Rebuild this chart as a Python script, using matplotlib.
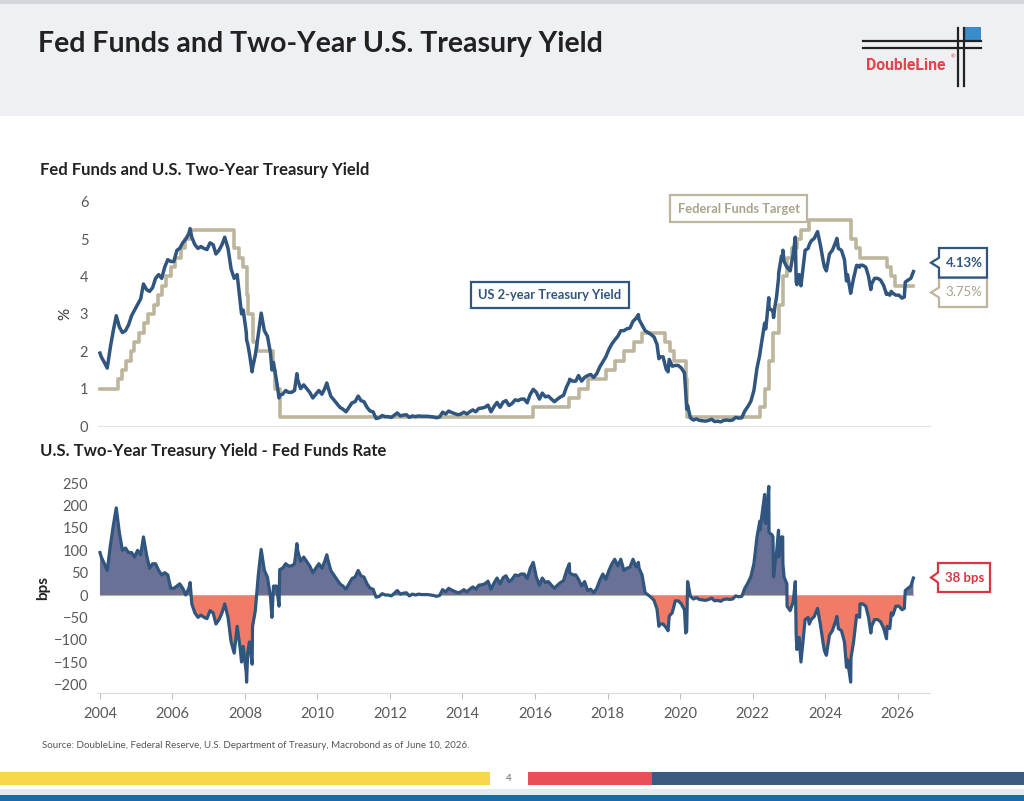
import numpy as np
import pandas as pd
import matplotlib
matplotlib.use("Agg")
import matplotlib.pyplot as plt
import matplotlib.dates as mdates
from matplotlib.patches import Rectangle, Polygon

plt.rcParams['font.family'] = ['Lato', 'DejaVu Sans']

# ---- data ----
# Fed funds target (upper bound), change dates and levels in %
ff_dates = ["2004-01-01", "2004-06-30", "2004-08-10", "2004-09-21", "2004-11-10", "2004-12-14",
            "2005-02-02", "2005-03-22", "2005-05-03", "2005-06-30", "2005-08-09", "2005-09-20",
            "2005-11-01", "2005-12-13", "2006-01-31", "2006-03-28", "2006-05-10", "2006-06-29",
            "2007-09-18", "2007-10-31", "2007-12-11", "2008-01-22", "2008-01-30", "2008-03-18",
            "2008-04-30", "2008-10-08", "2008-10-29", "2008-12-16", "2015-12-16", "2016-12-14",
            "2017-03-15", "2017-06-14", "2017-12-13", "2018-03-21", "2018-06-13", "2018-09-26",
            "2018-12-19", "2019-07-31", "2019-09-18", "2019-10-30", "2020-03-03", "2020-03-15",
            "2022-03-16", "2022-05-04", "2022-06-15", "2022-07-27", "2022-09-21", "2022-11-02",
            "2022-12-14", "2023-02-01", "2023-03-22", "2023-05-03", "2023-07-26", "2024-09-18",
            "2024-11-07", "2024-12-18", "2025-09-17", "2025-10-29", "2025-12-10", "2026-06-10"]
ff_levels = [1.00, 1.25, 1.50, 1.75, 2.00, 2.25,
             2.50, 2.75, 3.00, 3.25, 3.50, 3.75,
             4.00, 4.25, 4.50, 4.75, 5.00, 5.25,
             4.75, 4.50, 4.25, 3.50, 3.00, 2.25,
             2.00, 1.50, 1.00, 0.25, 0.50, 0.75,
             1.00, 1.25, 1.50, 1.75, 2.00, 2.25,
             2.50, 2.25, 2.00, 1.75, 1.25, 0.25,
             0.50, 1.00, 1.75, 2.50, 3.25, 4.00,
             4.50, 4.75, 5.00, 5.25, 5.50, 5.00,
             4.75, 4.50, 4.25, 4.00, 3.75, 3.75]

# US 2-year Treasury yield, %
y2_dates = [
    "2004-01-02", "2004-01-15", "2004-02-15", "2004-03-15", "2004-04-15", "2004-05-15", "2004-06-14",
    "2004-07-15", "2004-08-15", "2004-09-15", "2004-10-15", "2004-11-15", "2004-12-15",
    "2005-01-15", "2005-02-15", "2005-03-15", "2005-04-15", "2005-05-15", "2005-06-15",
    "2005-07-15", "2005-08-15", "2005-09-15", "2005-10-15", "2005-11-15", "2005-12-15",
    "2006-01-15", "2006-02-15", "2006-03-15", "2006-04-15", "2006-05-15", "2006-06-15", "2006-06-28",
    "2006-07-15", "2006-08-15", "2006-09-15", "2006-10-15", "2006-11-15", "2006-12-15",
    "2007-01-15", "2007-02-15", "2007-03-15", "2007-04-15", "2007-05-15", "2007-06-12",
    "2007-07-15", "2007-08-15", "2007-09-15", "2007-10-15", "2007-11-15", "2007-11-28", "2007-12-15",
    "2008-01-15", "2008-01-18", "2008-01-29", "2008-02-15", "2008-03-14", "2008-03-18", "2008-04-15",
    "2008-05-15", "2008-06-13", "2008-07-15", "2008-08-15", "2008-09-15", "2008-09-29", "2008-10-15",
    "2008-11-15", "2008-12-10", "2008-12-17",
    "2009-01-15", "2009-02-15", "2009-03-15", "2009-04-15", "2009-05-15", "2009-06-08", "2009-06-15",
    "2009-07-15", "2009-08-15", "2009-09-15", "2009-10-15", "2009-11-15", "2009-12-15",
    "2010-01-15", "2010-02-15", "2010-03-15", "2010-04-05", "2010-04-15", "2010-05-15", "2010-06-15",
    "2010-07-15", "2010-08-15", "2010-09-15", "2010-10-15", "2010-11-15", "2010-12-15",
    "2011-01-15", "2011-02-15", "2011-03-15", "2011-04-15", "2011-05-15", "2011-06-15",
    "2011-07-15", "2011-08-15", "2011-09-15", "2011-10-15", "2011-11-15", "2011-12-15",
    "2012-01-15", "2012-02-15", "2012-03-15", "2012-04-15", "2012-05-15", "2012-06-15",
    "2012-07-15", "2012-08-15", "2012-09-15", "2012-10-15", "2012-11-15", "2012-12-15",
    "2013-01-15", "2013-02-15", "2013-03-15", "2013-04-15", "2013-05-15", "2013-06-15",
    "2013-07-15", "2013-08-15", "2013-09-15", "2013-10-15", "2013-11-15", "2013-12-15",
    "2014-01-15", "2014-02-15", "2014-03-15", "2014-04-15", "2014-05-15", "2014-06-15",
    "2014-07-15", "2014-08-15", "2014-09-15", "2014-10-15", "2014-11-15", "2014-12-15",
    "2015-01-15", "2015-02-15", "2015-03-15", "2015-04-15", "2015-05-15", "2015-06-15",
    "2015-07-15", "2015-08-15", "2015-09-15", "2015-10-15", "2015-11-15", "2015-12-15",
    "2016-01-15", "2016-02-15", "2016-03-15", "2016-04-15", "2016-05-15", "2016-06-15",
    "2016-07-15", "2016-08-15", "2016-09-15", "2016-10-15", "2016-11-15", "2016-12-13", "2016-12-15",
    "2017-01-15", "2017-02-15", "2017-03-15", "2017-04-15", "2017-05-15", "2017-06-15",
    "2017-07-15", "2017-08-15", "2017-09-15", "2017-10-15", "2017-11-15", "2017-12-15",
    "2018-01-15", "2018-02-15", "2018-03-15", "2018-04-15", "2018-05-15", "2018-06-15",
    "2018-07-15", "2018-08-15", "2018-09-15", "2018-10-15", "2018-11-08", "2018-11-15", "2018-12-15",
    "2019-01-15", "2019-02-15", "2019-03-15", "2019-04-15", "2019-05-15", "2019-06-03", "2019-06-15",
    "2019-07-15", "2019-08-15", "2019-09-03", "2019-09-15", "2019-10-15", "2019-11-15", "2019-12-15",
    "2020-01-15", "2020-02-15", "2020-02-28", "2020-03-09", "2020-03-18", "2020-04-15", "2020-05-15",
    "2020-06-15", "2020-07-15", "2020-08-15", "2020-09-15", "2020-10-15", "2020-11-15", "2020-12-15",
    "2021-01-15", "2021-02-15", "2021-03-15", "2021-04-15", "2021-05-15", "2021-06-15",
    "2021-07-15", "2021-08-15", "2021-09-15", "2021-10-15", "2021-11-15", "2021-12-15",
    "2022-01-15", "2022-02-15", "2022-03-15", "2022-03-17", "2022-04-15", "2022-05-03", "2022-05-05",
    "2022-05-15", "2022-06-14", "2022-06-16", "2022-07-15", "2022-07-26", "2022-08-01", "2022-08-15",
    "2022-08-31", "2022-09-20", "2022-09-22", "2022-10-20", "2022-11-01", "2022-11-03", "2022-11-15",
    "2022-12-13", "2022-12-15",
    "2023-01-15", "2023-02-15", "2023-03-08", "2023-03-17", "2023-03-24", "2023-04-15", "2023-05-04",
    "2023-05-15", "2023-06-15", "2023-07-15", "2023-07-27", "2023-08-15", "2023-09-15", "2023-10-18",
    "2023-11-15", "2023-12-15", "2023-12-27",
    "2024-01-15", "2024-02-15", "2024-03-15", "2024-04-15", "2024-04-30", "2024-05-15", "2024-06-15",
    "2024-07-15", "2024-08-05", "2024-08-15", "2024-09-16", "2024-09-19", "2024-10-15", "2024-11-15",
    "2024-12-15", "2024-12-19",
    "2025-01-15", "2025-02-15", "2025-03-15", "2025-04-07", "2025-04-15", "2025-05-15", "2025-06-15",
    "2025-07-15", "2025-08-15", "2025-09-12", "2025-09-18", "2025-10-15", "2025-10-30", "2025-11-15",
    "2025-12-15",
    "2026-01-15", "2026-02-15", "2026-03-10", "2026-03-20", "2026-04-15", "2026-05-15", "2026-06-10",
]
y2_vals = [
    1.95, 1.85, 1.70, 1.55, 2.10, 2.55, 2.95,
    2.65, 2.50, 2.55, 2.70, 2.95, 3.10,
    3.25, 3.40, 3.80, 3.65, 3.60, 3.70,
    3.95, 4.05, 3.95, 4.25, 4.45, 4.40,
    4.40, 4.70, 4.75, 4.90, 5.00, 5.15, 5.28,
    5.05, 4.85, 4.75, 4.80, 4.75, 4.72,
    4.90, 4.85, 4.60, 4.70, 4.85, 5.05,
    4.75, 4.20, 3.95, 4.05, 3.30, 3.00, 3.10,
    2.50, 2.30, 2.20, 1.95, 1.45, 1.55, 1.90,
    2.45, 3.02, 2.55, 2.40, 1.95, 1.50, 1.70,
    1.20, 0.75, 0.82,
    0.85, 0.95, 0.90, 0.90, 0.95, 1.40, 1.25,
    1.00, 1.10, 1.00, 0.90, 0.75, 0.85,
    0.95, 0.85, 1.00, 1.15, 1.05, 0.80, 0.70,
    0.60, 0.50, 0.45, 0.38, 0.50, 0.62,
    0.65, 0.80, 0.68, 0.65, 0.50, 0.40,
    0.38, 0.20, 0.22, 0.28, 0.25, 0.25,
    0.23, 0.29, 0.35, 0.27, 0.29, 0.30,
    0.23, 0.27, 0.25, 0.27, 0.26, 0.26,
    0.26, 0.25, 0.24, 0.22, 0.24, 0.37,
    0.32, 0.40, 0.36, 0.33, 0.30, 0.32,
    0.37, 0.32, 0.38, 0.43, 0.38, 0.47,
    0.48, 0.50, 0.56, 0.38, 0.52, 0.63,
    0.50, 0.64, 0.68, 0.55, 0.60, 0.70,
    0.68, 0.72, 0.72, 0.62, 0.85, 0.98,
    0.90, 0.72, 0.88, 0.78, 0.80, 0.72,
    0.65, 0.72, 0.78, 0.82, 1.05, 1.20, 1.25,
    1.20, 1.20, 1.35, 1.20, 1.30, 1.35,
    1.38, 1.30, 1.40, 1.58, 1.72, 1.85,
    2.05, 2.20, 2.30, 2.40, 2.55, 2.55,
    2.60, 2.62, 2.80, 2.88, 2.98, 2.85, 2.70,
    2.55, 2.50, 2.45, 2.38, 2.18, 1.80, 1.85,
    1.85, 1.52, 1.45, 1.78, 1.60, 1.62, 1.62,
    1.55, 1.42, 0.90, 0.45, 0.55, 0.22, 0.16,
    0.19, 0.15, 0.14, 0.13, 0.15, 0.18, 0.12,
    0.13, 0.11, 0.15, 0.16, 0.15, 0.16,
    0.23, 0.21, 0.22, 0.40, 0.52, 0.66,
    0.95, 1.55, 1.90, 1.95, 2.45, 2.75, 2.65,
    2.60, 3.43, 3.15, 3.10, 3.05, 2.90, 3.20,
    3.45, 3.95, 4.10, 4.55, 4.55, 4.70, 4.40,
    4.25, 4.25,
    4.15, 4.60, 5.05, 3.85, 3.78, 4.05, 3.75,
    4.00, 4.70, 4.75, 4.85, 4.95, 5.02, 5.20,
    4.85, 4.40, 4.25,
    4.15, 4.60, 4.70, 4.90, 5.02, 4.75, 4.70,
    4.45, 3.88, 4.05, 3.55, 3.60, 3.95, 4.30,
    4.25, 4.30,
    4.30, 4.25, 4.00, 3.65, 3.80, 3.95, 3.95,
    3.90, 3.75, 3.52, 3.55, 3.50, 3.60, 3.55,
    3.50,
    3.50, 3.42, 3.45, 3.85, 3.90, 3.95, 4.13,
]
assert len(y2_dates) == len(y2_vals)

y_ticks_top = [0, 1, 2, 3, 4, 5, 6]
y_ticks_bot = [-200, -150, -100, -50, 0, 50, 100, 150, 200, 250]
x_years = list(range(2004, 2027, 2))

navy = "#30557e"
tan = "#bdb69d"
tan_text = "#a9a38b"
pos_fill = "#6a7196"
neg_fill = "#f07b67"
red = "#d93644"
grey = "#595959"

ff_d = pd.to_datetime(ff_dates).values
ff_v = np.array(ff_levels)
y2_d = pd.to_datetime(y2_dates).values
y2_v = np.array(y2_vals)

# spread in bps = 2yr yield minus fed funds level in force on that day
idx = np.searchsorted(ff_d, y2_d, side="right") - 1
spread = (y2_v - ff_v[idx]) * 100

W, H = 1024, 801
fig = plt.figure(figsize=(W / 100, H / 100), dpi=100)


def fx(x):
    return x / W


def fy(y):
    return 1 - y / H


def frect(x0, y0, x1, y1, color):
    fig.patches.append(Rectangle((fx(x0), fy(y1)), fx(x1) - fx(x0), fy(y0) - fy(y1),
                                 transform=fig.transFigure, color=color, lw=0, zorder=0))


def callout(x0, y0, x1, y1, tipx, ec, text, tc, bold=True):
    ym = (y0 + y1) / 2
    pts = [(x0, y0), (x1, y0), (x1, y1), (x0, y1), (x0, ym + 5), (tipx, ym), (x0, ym - 5)]
    fig.patches.append(Polygon([(fx(a), fy(b)) for a, b in pts], closed=True, transform=fig.transFigure,
                               facecolor="white", edgecolor=ec, lw=1.6, zorder=5))
    fig.text(fx((x0 + x1) / 2 + 1), fy(ym), text, color=tc, fontsize=9.5,
             fontweight="bold" if bold else "normal", ha="center", va="center", zorder=6)


# header / footer decoration
frect(0, 0, W, 4, "#d3d6db")
frect(0, 4, W, 116, "#eef0f3")
fig.text(fx(38), fy(44), "Fed Funds and Two-Year U.S. Treasury Yield", fontsize=20.5, fontweight="bold",
         color="#222222", va="center")

# logo
for yy in (41, 47.5):
    fig.add_artist(plt.Line2D([fx(863), fx(981)], [fy(yy), fy(yy)], color="#222222", lw=1.6,
                              transform=fig.transFigure))
for xx in (957.5, 963.5):
    fig.add_artist(plt.Line2D([fx(xx), fx(xx)], [fy(27.5), fy(86)], color="#222222", lw=1.6,
                              transform=fig.transFigure))
frect(964, 27, 981, 41, "#3a8ccb")
fig.text(fx(866), fy(65), "DoubleLine", fontsize=11.3, fontweight="bold", color="#e0464c", va="center",
         family=["Liberation Sans Narrow", "Roboto", "DejaVu Sans"])
fig.text(fx(951), fy(57), "®", fontsize=4, color="#e0464c", va="center")

frect(0, 772, 490, 785, "#f6d84a")
frect(528, 772, 652, 785, "#e94f59")
frect(652, 772, W, 785, "#3b5a80")
fig.text(fx(509), fy(778.5), "4", fontsize=7, color="#666666", ha="center", va="center")
frect(0, 789, W, 795, "#e6e9ed")
frect(0, 795, W, H, "#1769b3")

fig.text(fx(42), fy(746), "Source: DoubleLine, Federal Reserve, U.S. Department of Treasury, Macrobond as of June 10, 2026.",
         fontsize=7.0, color="#555555", va="center")

# section titles
fig.text(fx(40), fy(170), "Fed Funds and U.S. Two-Year Treasury Yield", fontsize=12, fontweight="bold",
         color="#222222", va="center")
fig.text(fx(40), fy(451), "U.S. Two-Year Treasury Yield - Fed Funds Rate", fontsize=12, fontweight="bold",
         color="#222222", va="center")

xlim = (pd.Timestamp("2003-12-13"), pd.Timestamp("2026-11-24"))
ax_l, ax_r = fx(98), fx(930)
ax_wpx = 930 - 98

# ---- top panel ----
ax1 = fig.add_axes([ax_l, fy(426), ax_r - ax_l, fy(201.7) - fy(426)])
ax1.step(ff_d, ff_v, where="post", color=tan, lw=2.6, zorder=2)
ax1.plot(y2_d, y2_v, color=navy, lw=2.5, zorder=3)
ax1.set_xlim(xlim)
ax1.set_ylim(0, 6)
ax1.set_yticks(y_ticks_top)
ax1.set_xticks([])
for s in ("top", "right", "left"):
    ax1.spines[s].set_visible(False)
ax1.spines["bottom"].set_color("#e3e3e3")
ax1.tick_params(axis="y", length=0, pad=7, labelsize=10.5, labelcolor=grey)
ax1.set_ylabel("%", fontsize=11, color="#333333")
ax1.yaxis.set_label_coords((72 - 98) / ax_wpx, 0.5)
ax1.patch.set_alpha(0)

# ---- bottom panel ----
ax2 = fig.add_axes([ax_l, fy(693.3), ax_r - ax_l, fy(483.3) - fy(693.3)])
ax2.fill_between(y2_d, spread, 0, where=spread >= 0, interpolate=True, color=pos_fill, lw=0, zorder=1)
ax2.fill_between(y2_d, spread, 0, where=spread <= 0, interpolate=True, color=neg_fill, lw=0, zorder=1)
ax2.plot([y2_d[0], y2_d[-1]], [0, 0], color="#e79a9a", lw=0.8, zorder=2)
ax2.plot(y2_d, spread, color=navy, lw=2.3, zorder=3)
ax2.set_xlim(xlim)
ax2.set_ylim(-220, 250)
ax2.set_yticks(y_ticks_bot)
ax2.set_xticks([pd.Timestamp(f"{y}-01-01") for y in x_years])
ax2.xaxis.set_major_formatter(mdates.DateFormatter("%Y"))
for s in ("top", "right", "left"):
    ax2.spines[s].set_visible(False)
ax2.spines["bottom"].set_color("#d9d9d9")
ax2.tick_params(axis="y", length=0, pad=7, labelsize=10.5, labelcolor=grey)
ax2.tick_params(axis="x", length=4, color="#bfbfbf", pad=6, labelsize=10.5, labelcolor=grey)
ax2.set_ylabel("bps", fontsize=11, fontweight="bold", color="#222222")
ax2.yaxis.set_label_coords((50 - 98) / ax_wpx, 0.5)
ax2.patch.set_alpha(0)

# ---- labels / callouts ----
fig.text(fx(550), fy(295), "US 2-year Treasury Yield", fontsize=9.3, fontweight="bold", color=navy,
         ha="center", va="center",
         bbox=dict(boxstyle="square,pad=0.55", facecolor="white", edgecolor=navy, lw=1.6))
fig.text(fx(738.5), fy(208.5), "Federal Funds Target", fontsize=9.3, fontweight="bold", color=tan_text,
         ha="center", va="center",
         bbox=dict(boxstyle="square,pad=0.55", facecolor="white", edgecolor=tan, lw=1.6))
callout(939, 278, 987, 307, 931, tan, "3.75%", tan_text, bold=False)
callout(939, 248, 987, 277.5, 931, navy, "4.13%", navy)
callout(938, 563, 990, 592, 931, red, "38 bps", red)

fig.savefig("out.png", dpi=100, facecolor="white")
